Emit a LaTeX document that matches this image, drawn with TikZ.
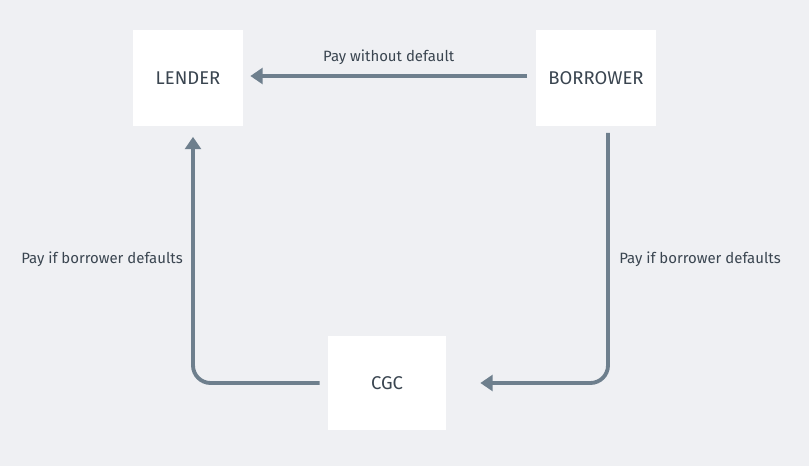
\documentclass[tikz,border=0pt]{standalone}
\usepackage{fontspec}
\setmainfont{Fira Sans}
\usepackage{tikz}
\usetikzlibrary{calc,arrows.meta}
\definecolor{bgcol}{HTML}{EFF0F3}
\definecolor{arrowcol}{HTML}{6E7F8D}
\definecolor{textcol}{HTML}{3A4550}
\tikzset{
  party/.style={fill=white,text=textcol,font=\fontsize{10.5}{12}\selectfont},
  flow/.style={draw=arrowcol,line width=2.2pt,rounded corners=10pt,-{Triangle[length=7pt,width=9pt]}},
  lbl/.style={text=textcol,font=\fontsize{8.5}{10}\selectfont}
}
\begin{document}
\begin{tikzpicture}[x=0.02cm,y=-0.02cm]
    \fill[bgcol] (0,0) rectangle (809,466);

    \node[party,minimum width=2.2cm,minimum height=1.94cm] (lender) at (188,78) {LENDER};
    \node[party,minimum width=2.42cm,minimum height=1.94cm] (borrower) at (596,78) {BORROWER};
    \node[party,minimum width=2.36cm,minimum height=1.88cm] (cgc) at (387,383) {CGC};

    \draw[flow] ($(borrower.west)+(-8,-2)$) -- ($(lender.east)+(7,-2)$)
      node[lbl,midway,above=2pt] {Pay without default};
    \draw[flow] ($(borrower.south)+(12,6)$) |- ($(cgc.east)+(34,0)$);
    \draw[flow] ($(cgc.west)+(-8,0)$) -| ($(lender.south)+(5,10)$);

    \node[lbl] (rightlbl) at (700,259) {Pay if borrower defaults};
    \node[lbl] (leftlbl) at (102,259) {Pay if borrower defaults};
\end{tikzpicture}
\end{document}
